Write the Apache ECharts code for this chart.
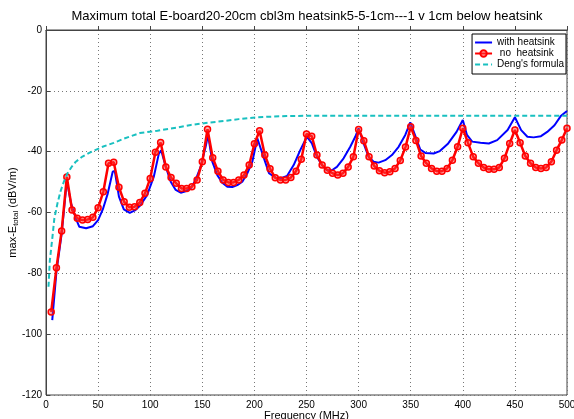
<!DOCTYPE html>
<html>
<head>
<meta charset="utf-8">
<script src="https://cdn.jsdelivr.net/npm/echarts@6/dist/echarts.min.js"></script>
<style>html,body{margin:0;padding:0;background:#fff}#c{width:574px;height:419px}</style>
</head>
<body>
<div id="c"></div>
<script>
const titleText = 'Maximum total E-board20-20cm cbl3m heatsink5-5-1cm---1 v 1cm below heatsink';
const xTicks = [0, 50, 100, 150, 200, 250, 300, 350, 400, 450, 500];
const yTicks = [-120, -100, -80, -60, -40, -20, 0];

const redFreq = [5,10,15,20,25,30,35,40,45,50,55,60,65,70,75,80,85,90,95,100,
  105,110,115,120,125,130,135,140,145,150,155,160,165,170,175,180,185,190,195,200,
  205,210,215,220,225,230,235,240,245,250,255,260,265,270,275,280,285,290,295,300,
  305,310,315,320,325,330,335,340,345,350,355,360,365,370,375,380,385,390,395,400,
  405,410,415,420,425,430,435,440,445,450,455,460,465,470,475,480,485,490,495,500];
const redVals = [-92.7,-78.2,-66.1,-48.3,-59.2,-61.9,-62.5,-62.3,-61.6,-58.4,
  -53.2,-43.8,-43.5,-51.7,-56.5,-58.3,-58.1,-56.7,-53.7,-48.8,
  -40.2,-37.0,-45.0,-48.5,-50.4,-52.1,-52.1,-51.5,-49.3,-43.3,
  -32.6,-42.0,-46.4,-49.3,-50.1,-50.1,-49.3,-47.7,-44.4,-37.4,
  -33.1,-41.1,-45.6,-48.6,-49.3,-49.3,-48.5,-46.4,-42.5,-34.2,
  -34.9,-41.1,-44.4,-46.1,-47.1,-47.7,-47.1,-45.0,-41.7,-32.7,
  -36.4,-41.7,-44.7,-46.3,-46.9,-46.6,-45.5,-42.9,-38.5,-31.8,
  -36.3,-41.4,-43.8,-45.5,-46.4,-46.4,-45.5,-42.8,-38.4,-32.3,
  -37.1,-41.7,-43.8,-45.2,-45.8,-45.8,-45.2,-42.2,-37.3,-32.9,
  -37.1,-41.4,-43.8,-45.2,-45.5,-45.2,-43.3,-39.5,-36.2,-32.3];

const blueFreq = [6,10,15,20,24,28.6,32,38.5,45,50,54.5,59.3,64,66,70,74.7,80.4,85.8,90.6,97,
  103.4,108.2,110.5,115,119.7,124.5,129.3,134,138.8,143.6,148.4,153.2,155.5,159.6,164.4,169.2,174,178.8,183.6,188.4,
  193.2,198,202.8,204.4,209.2,214,220,225,231.3,237.7,244,250.4,255.2,260,264.8,269.6,274.4,279.2,285.6,292,
  296.8,300,304.8,309.6,314.4,319.2,325.6,332,338.4,344.8,349.6,354.4,359.2,364,372,378,386,394,400,404,
  409,417,425,433,443,450,456,462,468,475,481,488,494,500];
const blueVals = [-95.4,-79.5,-67,-49.5,-57,-61.9,-64.7,-65.2,-64.5,-62.5,-59,-53.7,-46.6,-46.3,-54.8,-59,-60.1,-59.2,-57.6,-54.3,
  -48.3,-40.8,-39.5,-45,-49.9,-52.6,-53.5,-53,-52.1,-49.3,-45,-38.4,-34.5,-43.3,-47.7,-50.2,-51.5,-51.6,-51,-49.9,
  -47.1,-43.3,-35.6,-35.1,-42.2,-47.1,-48.5,-48.8,-48,-44.4,-39.5,-35.1,-37.3,-41.7,-44.4,-46.1,-46.1,-45,-42.2,-38.4,
  -35.1,-32.3,-37.3,-41.7,-43.3,-43.6,-42.8,-41.1,-38.4,-34.5,-30.4,-34.8,-39.3,-40.4,-40.6,-39.8,-37.3,-33.5,-29.6,-34.5,
  -36.7,-37.1,-37.3,-36.2,-32.9,-28.7,-32.9,-35.1,-35.3,-34.9,-33.5,-31.3,-28.3,-26.6];

const dengFreq = [2.4,3.7,6.2,8,11,14,17,20.6,25,28.6,35,41.5,54.3,65,75,90,107,125,139,155,171,185,203,215,231,250,300,350,400,450,500];
const dengVals = [-84.4,-75.7,-68,-62,-57,-53,-50,-47.1,-44.8,-43.3,-41.6,-40.4,-38.4,-37.1,-35.7,-33.9,-33.1,-32.1,-31.2,-30.5,-29.9,-29.3,-28.7,-28.5,-28.3,-28.2,-28.2,-28.2,-28.2,-28.2,-28.2];

const seriesNames = ['with heatsink', ' no  heatsink', "Deng's formula"];

function pairs(xs, ys) { return xs.map((x, i) => [x, ys[i]]); }

const FONT = 'Liberation Sans, Arial, Helvetica, sans-serif';
const noSym = {color: 'rgba(0,0,0,0)', borderWidth: 0, borderColor: 'rgba(0,0,0,0)'};
const chart = echarts.init(document.getElementById('c'), null, {renderer: 'canvas'});
chart.setOption({
  animation: false,
  backgroundColor: '#fff',
  title: {
    text: titleText,
    left: 302, top: 5, textAlign: 'center',
    textStyle: {fontFamily: FONT, fontSize: 13, fontWeight: 'normal', color: '#000'}
  },
  grid: {left: 46, right: 7, top: 30, bottom: 24, show: true, borderColor: '#444', borderWidth: 1,
         containLabel: false, outerBoundsMode: 'none'},
  legend: {
    orient: 'vertical', right: 8, top: 34,
    backgroundColor: '#fff', borderColor: '#000', borderWidth: 1,
    padding: [3, 2, 4, 2], itemGap: 0, itemWidth: 17, itemHeight: 8,
    textStyle: {fontFamily: FONT, fontSize: 10, lineHeight: 11, color: '#000'},
    data: [
      {name: seriesNames[0], itemStyle: noSym},
      {name: seriesNames[1]},
      {name: seriesNames[2], itemStyle: noSym}
    ]
  },
  xAxis: {
    type: 'value', min: xTicks[0], max: xTicks[xTicks.length - 1], interval: 50,
    name: 'Frequency (MHz)', nameLocation: 'middle', nameGap: 15, nameMoveOverlap: false,
    nameTextStyle: {fontFamily: FONT, fontSize: 11, color: '#000'},
    axisLine: {show: true, lineStyle: {color: '#444'}},
    axisTick: {show: true, inside: true, length: 4, lineStyle: {color: '#444'}},
    axisLabel: {fontFamily: FONT, fontSize: 10, color: '#000', margin: 5},
    splitLine: {show: true, lineStyle: {color: '#777', type: [1, 3], width: 1}}
  },
  yAxis: {
    type: 'value', min: yTicks[0], max: yTicks[yTicks.length - 1], interval: 20,
    name: '{a|max-E}{s|total}{a| (dBV/m)}', nameLocation: 'middle', nameGap: 26, nameRotate: 90, nameMoveOverlap: false,
    nameTextStyle: {fontFamily: FONT, fontSize: 11, color: '#000',
      rich: {a: {fontFamily: FONT, fontSize: 11, color: '#000'},
             s: {fontFamily: FONT, fontSize: 8, color: '#000', verticalAlign: 'bottom', padding: [6, 0, 0, 0]}}},
    axisLine: {show: true, lineStyle: {color: '#444'}},
    axisTick: {show: true, inside: true, length: 4, lineStyle: {color: '#444'}},
    axisLabel: {fontFamily: FONT, fontSize: 10, color: '#000', margin: 4},
    splitLine: {show: true, lineStyle: {color: '#777', type: [1, 3], width: 1}}
  },
  series: [
    {
      name: seriesNames[0], type: 'line', data: pairs(blueFreq, blueVals),
      symbol: 'none', color: '#0000ff', lineStyle: {color: '#0000ff', width: 2}, z: 3
    },
    {
      name: seriesNames[1], type: 'line', data: pairs(redFreq, redVals),
      symbol: 'circle', symbolSize: 6, color: '#ff0000',
      itemStyle: {color: 'rgba(255,60,60,0.45)', borderColor: '#ff0000', borderWidth: 1.5},
      lineStyle: {color: '#ff0000', width: 2.5}, z: 4
    },
    {
      name: seriesNames[2], type: 'line', data: pairs(dengFreq, dengVals),
      symbol: 'none', color: '#19c0c0', lineStyle: {color: '#19c0c0', width: 2, type: [5, 3]}, z: 5
    }
  ]
});
</script>
</body>
</html>
